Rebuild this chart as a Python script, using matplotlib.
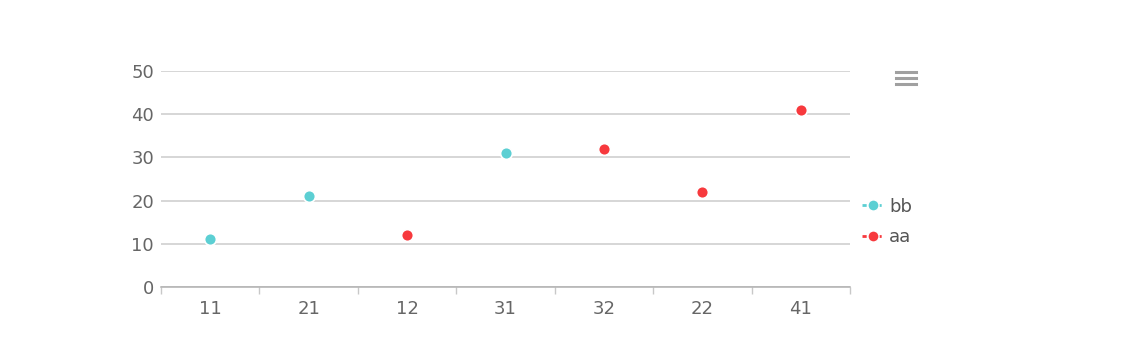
import numpy as np
import matplotlib.pyplot as plt
from matplotlib.lines import Line2D

categories = ["11", "21", "12", "31", "32", "22", "41"]
bb_values = [11, 21, None, 31, None, None, None]
aa_values = [None, None, 12, None, 32, 22, 41]
series_names = ["bb", "aa"]
bb_color = "#5ccfd3"
aa_color = "#f7393d"

W, H = 1124, 356
fig = plt.figure(figsize=(W / 100, H / 100), dpi=100)
ax = fig.add_axes([161 / W, 69 / H, (850 - 161) / W, 216 / H])

x = np.arange(len(categories))


def plot_series(vals, color):
    xs = [i for i, v in zip(x, vals) if v is not None]
    ys = [v for v in vals if v is not None]
    ax.plot(xs, ys, linestyle="none", marker="o", markersize=8.5,
            markerfacecolor=color, markeredgecolor="white", markeredgewidth=1.2,
            zorder=3, clip_on=False)


plot_series(bb_values, bb_color)
plot_series(aa_values, aa_color)

ax.set_xlim(-0.5, len(categories) - 0.5)
ax.set_ylim(0, 50)
ax.set_yticks([0, 10, 20, 30, 40, 50])
ax.set_xticks(x)
ax.set_xticklabels(categories)
ax.set_xticks(np.arange(-0.5, len(categories), 1), minor=True)

ax.grid(axis="y", color="#cccccc", linewidth=1.1)
ax.set_axisbelow(True)
for s in ["top", "right", "left"]:
    ax.spines[s].set_visible(False)
ax.spines["bottom"].set_color("#b0b0b0")
ax.spines["bottom"].set_linewidth(1.1)

ax.tick_params(axis="y", length=0, pad=5, labelsize=13, labelcolor="#666666")
ax.tick_params(axis="x", which="major", length=0, pad=9, labelsize=13, labelcolor="#666666")
ax.tick_params(axis="x", which="minor", length=5, color="#c8c8c8", width=1)

# legend on the right
handles = [
    Line2D([0], [0], color=bb_color, linestyle=(0, (1.5, 1.2)), linewidth=2,
           marker="o", markersize=8, markeredgecolor="white", markerfacecolor=bb_color),
    Line2D([0], [0], color=aa_color, linestyle=(0, (1.5, 1.2)), linewidth=2,
           marker="o", markersize=8, markeredgecolor="white", markerfacecolor=aa_color),
]
fig.legend(handles, series_names, loc="center left", bbox_to_anchor=(846 / W, 1 - 222 / H),
           frameon=False, handlelength=1.2, handletextpad=0.3, labelspacing=0.7,
           prop={"size": 13}, labelcolor="#555555")

# menu icon
for yy in [72, 78, 84]:
    fig.add_artist(Line2D([896 / W, 916 / W], [1 - yy / H, 1 - yy / H],
                          color="#a0a0a0", linewidth=2.2, transform=fig.transFigure))

fig.savefig("out.png", dpi=100)
